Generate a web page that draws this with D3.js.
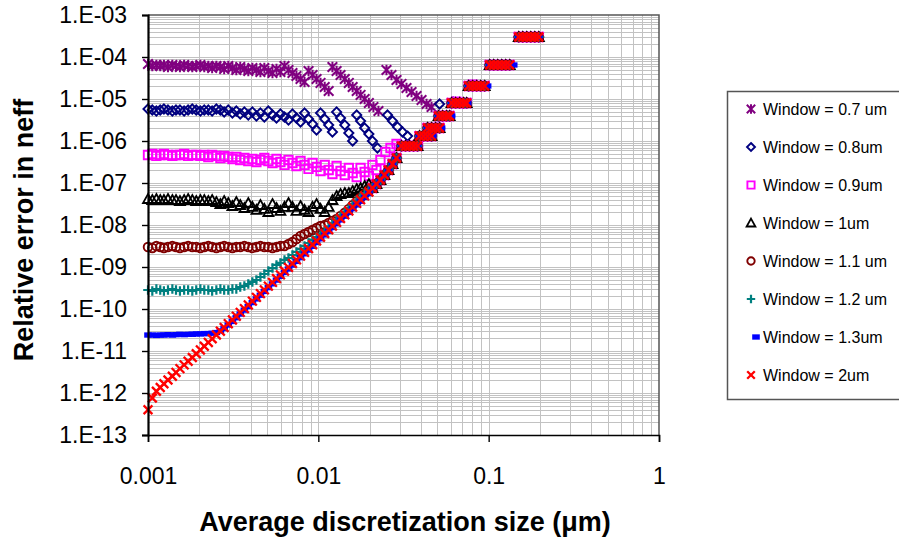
<!DOCTYPE html>
<html>
<head>
<meta charset="utf-8">
<script src="https://cdn.jsdelivr.net/npm/d3@7"></script>
<style>
  body { margin: 0; background: #fff; }
  svg { display: block; font-family: "Liberation Sans", Arial, Helvetica, sans-serif; }
</style>
</head>
<body>
<svg id="chart" width="899" height="544"></svg>
<script>
// discretization sizes shared by the dense part of every run (um)
const xGrid = [
  0.00100, 0.00106, 0.00112, 0.00118, 0.00124, 0.00131, 0.00139, 0.00146, 0.00154, 0.00163,
  0.00172, 0.00182, 0.00192, 0.00203, 0.00214, 0.00226, 0.00238, 0.00252, 0.00266, 0.00280,
  0.00296, 0.00313, 0.00330, 0.00348, 0.00368, 0.00388, 0.00410, 0.00433, 0.00457, 0.00482,
  0.00509, 0.00538, 0.00568, 0.00599, 0.00633, 0.00668, 0.00705, 0.00744, 0.00786, 0.00830,
  0.00876, 0.00925, 0.00976, 0.0103, 0.0109, 0.0115, 0.0121, 0.0128, 0.0135, 0.0143,
  0.0151, 0.0159, 0.0168, 0.0177, 0.0187, 0.0198
];

// relative error on xGrid, one array per window
const w07 = [
  6.81e-5, 6.11e-5, 6.45e-5, 6.11e-5, 6.45e-5, 5.78e-5, 6.45e-5, 6.11e-5, 5.78e-5, 6.45e-5,
  6.11e-5, 5.78e-5, 6.11e-5, 6.45e-5, 5.78e-5, 6.11e-5, 5.47e-5, 6.11e-5, 5.78e-5, 5.18e-5,
  6.11e-5, 5.47e-5, 4.90e-5, 5.78e-5, 5.18e-5, 4.64e-5, 5.47e-5, 4.90e-5, 4.40e-5, 5.47e-5,
  4.64e-5, 4.16e-5, 5.18e-5, 4.40e-5, 6.11e-5, 4.90e-5, 4.16e-5, 3.53e-5, 2.99e-5, 2.54e-5,
  4.64e-5, 3.73e-5, 2.99e-5, 2.41e-5, 1.93e-5, 1.55e-5, 5.78e-5, 4.64e-5, 3.73e-5, 2.99e-5,
  2.41e-5, 1.93e-5, 1.55e-5, 1.25e-5, 1.0e-5, 8.03e-6
];
const w08 = [
  5.78e-6, 5.47e-6, 5.18e-6, 5.47e-6, 5.78e-6, 5.47e-6, 5.18e-6, 5.47e-6, 5.47e-6, 5.18e-6,
  5.47e-6, 5.78e-6, 5.47e-6, 5.18e-6, 5.47e-6, 5.47e-6, 5.18e-6, 5.78e-6, 5.47e-6, 4.90e-6,
  5.47e-6, 4.64e-6, 5.18e-6, 4.40e-6, 4.90e-6, 4.16e-6, 4.90e-6, 3.94e-6, 4.64e-6, 3.73e-6,
  5.18e-6, 4.16e-6, 3.53e-6, 4.40e-6, 3.73e-6, 3.16e-6, 4.40e-6, 3.53e-6, 2.83e-6, 4.64e-6,
  3.34e-6, 2.54e-6, 1.83e-6, 4.64e-6, 3.34e-6, 2.41e-6, 1.64e-6, 4.90e-6, 3.53e-6, 2.41e-6,
  1.55e-6, 1.0e-6, 4.16e-6, 2.99e-6, 2.04e-6, 1.47e-6
];
const w09 = [
  4.64e-7, 4.90e-7, 4.40e-7, 4.64e-7, 4.90e-7, 4.64e-7, 4.40e-7, 4.64e-7, 4.64e-7, 4.90e-7,
  4.40e-7, 4.64e-7, 4.64e-7, 4.40e-7, 4.64e-7, 4.16e-7, 4.64e-7, 4.40e-7, 3.94e-7, 4.40e-7,
  4.16e-7, 3.73e-7, 4.16e-7, 3.53e-7, 3.94e-7, 3.34e-7, 3.73e-7, 3.16e-7, 3.53e-7, 3.94e-7,
  3.34e-7, 2.99e-7, 3.73e-7, 3.16e-7, 2.69e-7, 3.53e-7, 2.99e-7, 2.54e-7, 3.34e-7, 2.69e-7,
  2.16e-7, 2.99e-7, 2.41e-7, 1.93e-7, 2.69e-7, 2.04e-7, 1.64e-7, 2.54e-7, 1.93e-7, 1.55e-7,
  2.28e-7, 1.73e-7, 1.39e-7, 2.28e-7, 1.83e-7, 1.47e-7
];
const w10 = [
  4.16e-8, 3.94e-8, 4.16e-8, 3.94e-8, 3.94e-8, 4.16e-8, 3.94e-8, 3.94e-8, 3.73e-8, 3.94e-8,
  4.16e-8, 3.94e-8, 3.73e-8, 3.94e-8, 3.94e-8, 3.73e-8, 3.94e-8, 3.53e-8, 3.16e-8, 3.73e-8,
  3.34e-8, 2.83e-8, 3.53e-8, 2.99e-8, 2.54e-8, 3.34e-8, 2.69e-8, 2.28e-8, 2.99e-8, 2.41e-8,
  2.04e-8, 3.16e-8, 2.54e-8, 2.16e-8, 2.69e-8, 3.34e-8, 2.69e-8, 2.16e-8, 2.83e-8, 2.28e-8,
  2.04e-8, 2.69e-8, 3.16e-8, 2.41e-8, 2.04e-8, 2.69e-8, 3.94e-8, 4.90e-8, 5.47e-8, 5.78e-8,
  5.78e-8, 6.45e-8, 7.20e-8, 7.60e-8, 8.48e-8, 9.46e-8
];
const w11 = [
  2.99e-9, 2.83e-9, 3.16e-9, 2.99e-9, 2.83e-9, 2.99e-9, 3.16e-9, 2.99e-9, 2.83e-9, 2.99e-9,
  3.16e-9, 2.99e-9, 2.99e-9, 2.83e-9, 2.99e-9, 3.16e-9, 2.99e-9, 2.83e-9, 2.99e-9, 3.16e-9,
  2.99e-9, 2.83e-9, 2.99e-9, 2.99e-9, 3.16e-9, 2.99e-9, 2.83e-9, 2.99e-9, 3.16e-9, 2.99e-9,
  2.99e-9, 2.83e-9, 2.99e-9, 3.16e-9, 3.16e-9, 3.53e-9, 3.94e-9, 4.64e-9, 5.47e-9, 6.11e-9,
  6.81e-9, 7.60e-9, 8.48e-9, 9.46e-9, 1.0e-8, 1.12e-8, 1.25e-8, 1.39e-8, 1.64e-8, 1.96e-8,
  2.41e-8, 2.97e-8, 3.65e-8, 4.48e-8, 5.5e-8, 6.8e-8
];
const w12 = [
  2.83e-10, 2.69e-10, 2.99e-10, 2.83e-10, 2.69e-10, 2.83e-10, 2.99e-10, 2.83e-10, 2.69e-10, 2.83e-10,
  2.83e-10, 2.69e-10, 2.83e-10, 2.99e-10, 2.83e-10, 2.83e-10, 2.69e-10, 2.83e-10, 2.99e-10, 2.83e-10,
  2.83e-10, 2.99e-10, 2.99e-10, 3.34e-10, 3.53e-10, 3.94e-10, 4.40e-10, 4.90e-10, 5.78e-10, 6.81e-10,
  8.03e-10, 9.46e-10, 1.12e-9, 1.25e-9, 1.47e-9, 1.64e-9, 1.93e-9, 2.28e-9, 2.68e-9, 3.16e-9,
  3.73e-9, 4.40e-9, 5.18e-9, 6.11e-9, 7.4e-9, 9.1e-9, 1.12e-8, 1.37e-8, 1.69e-8, 2.08e-8,
  2.55e-8, 3.14e-8, 3.86e-8, 4.73e-8, 5.8e-8, 7.2e-8
];
const w13 = [
  2.40e-11, 2.40e-11, 2.35e-11, 2.40e-11, 2.40e-11, 2.45e-11, 2.40e-11, 2.45e-11, 2.50e-11, 2.45e-11,
  2.50e-11, 2.50e-11, 2.55e-11, 2.55e-11, 2.60e-11, 2.60e-11, 2.65e-11, 2.75e-11, 3.0e-11, 3.43e-11,
  4.16e-11, 5.05e-11, 6.2e-11, 7.6e-11, 9.4e-11, 1.15e-10, 1.42e-10, 1.74e-10, 2.13e-10, 2.62e-10,
  3.23e-10, 3.97e-10, 4.88e-10, 6.0e-10, 7.4e-10, 9.0e-10, 1.11e-9, 1.36e-9, 1.67e-9, 2.06e-9,
  2.53e-9, 3.11e-9, 3.83e-9, 4.70e-9, 5.8e-9, 7.1e-9, 8.7e-9, 1.07e-8, 1.32e-8, 1.62e-8,
  1.99e-8, 2.45e-8, 3.01e-8, 3.69e-8, 4.54e-8, 5.6e-8
];
const w20 = [
  4.0e-13, 7.6e-13, 1.10e-12, 1.35e-12, 1.66e-12, 2.04e-12, 2.51e-12, 3.09e-12, 3.80e-12, 4.68e-12,
  5.69e-12, 7.0e-12, 8.6e-12, 1.06e-11, 1.30e-11, 1.60e-11, 1.96e-11, 2.41e-11, 2.96e-11, 3.63e-11,
  4.47e-11, 5.49e-11, 6.75e-11, 8.3e-11, 1.02e-10, 1.25e-10, 1.54e-10, 1.89e-10, 2.32e-10, 2.85e-10,
  3.51e-10, 4.31e-10, 5.30e-10, 6.5e-10, 8.0e-10, 9.8e-10, 1.21e-9, 1.48e-9, 1.82e-9, 2.24e-9,
  2.75e-9, 3.38e-9, 4.16e-9, 5.11e-9, 6.3e-9, 7.7e-9, 9.5e-9, 1.16e-8, 1.43e-8, 1.76e-8,
  2.16e-8, 2.66e-8, 3.27e-8, 4.01e-8, 4.93e-8, 6.1e-8
];

// extra points of some windows beyond the shared grid [x, error]
const w07Extra = [
  [0.02106, 6.45e-6], [0.02254, 5.18e-6], [0.02512, 4.90e-5], [0.02688, 3.73e-5], [0.02877, 2.83e-5],
  [0.03077, 2.28e-5], [0.03293, 1.83e-5], [0.03525, 1.47e-5], [0.03772, 1.18e-5], [0.04036, 9.46e-6],
  [0.04318, 7.60e-6], [0.04621, 6.45e-6]
];
const w08Extra = [
  [0.02078, 1.0e-6], [0.02224, 6.81e-7], [0.02547, 4.16e-6], [0.02725, 2.99e-6], [0.02917, 2.16e-6],
  [0.03121, 1.64e-6], [0.03340, 1.31e-6], [0.0515, 7.6e-6], [0.0618, 8.5e-6]
];
const w09Extra = [
  [0.02078, 2.69e-7], [0.02193, 2.04e-7], [0.02315, 3.53e-7], [0.02478, 5.47e-7], [0.02651, 6.81e-7],
  [0.02877, 8.48e-7], [0.0385, 8.2e-7], [0.0645, 8.6e-6], [0.0805, 2.2e-5]
];
const w13Extra = [
  [0.0469, 1.31e-6], [0.0529, 2.04e-6], [0.0606, 3.94e-6], [0.0752, 8.03e-6], [0.0986, 2.04e-5],
  [0.1403, 6.45e-5]
];

// converged coarse points, common to every window
const tailX = [
  0.02078, 0.02193, 0.02315, 0.02444, 0.02581, 0.02725, 0.02877,
  0.03077, 0.03250, 0.03430, 0.03623, 0.03824,
  0.03928, 0.04146, 0.04377, 0.04621,
  0.04377, 0.04621, 0.04878, 0.05151,
  0.05082, 0.05364, 0.05662, 0.05897,
  0.06058, 0.06396, 0.06751, 0.07127, 0.07424,
  0.07627, 0.08052, 0.08500, 0.08973, 0.09474,
  0.1014, 0.1070, 0.1130, 0.1193, 0.1259, 0.1329,
  0.1502, 0.1585, 0.1673, 0.1767, 0.1865, 0.1969
];
const tailY = [
  7.60e-8, 9.46e-8, 1.18e-7, 1.55e-7, 2.04e-7, 2.83e-7, 3.94e-7,
  7.6e-7, 7.6e-7, 7.6e-7, 7.6e-7, 7.6e-7,
  1.31e-6, 1.31e-6, 1.31e-6, 1.31e-6,
  2.04e-6, 2.04e-6, 2.04e-6, 2.04e-6,
  3.94e-6, 3.94e-6, 3.94e-6, 3.94e-6,
  8.03e-6, 8.03e-6, 8.03e-6, 8.03e-6, 8.03e-6,
  2.04e-5, 2.04e-5, 2.04e-5, 2.04e-5, 2.04e-5,
  6.45e-5, 6.45e-5, 6.45e-5, 6.45e-5, 6.45e-5, 6.45e-5,
  2.99e-4, 2.99e-4, 2.99e-4, 2.99e-4, 2.99e-4, 2.99e-4
];

const seriesNames = [
  "Window = 0.7 um", "Window = 0.8um", "Window = 0.9um", "Window = 1um",
  "Window = 1.1 um", "Window = 1.2 um", "Window = 1.3um", "Window = 2um"
];
const yTickValues = [1e-3, 1e-4, 1e-5, 1e-6, 1e-7, 1e-8, 1e-9, 1e-10, 1e-11, 1e-12, 1e-13];
const yTickLabels = ["1.E-03", "1.E-04", "1.E-05", "1.E-06", "1.E-07", "1.E-08",
                     "1.E-09", "1.E-10", "1.E-11", "1.E-12", "1.E-13"];
const xTickValues = [0.001, 0.01, 0.1, 1];
const xTickLabels = ["0.001", "0.01", "0.1", "1"];

// --- layout
const plot = { left: 148, right: 659, top: 15, bottom: 435 };

const svg = d3.select("#chart");

const x = d3.scaleLog().domain([0.001, 1]).range([plot.left, plot.right]);
const y = d3.scaleLog().domain([1e-13, 1e-3]).range([plot.bottom, plot.top]);

// minor + major grid (1..9 of every decade)
const xGridVals = [];
[0.001, 0.01, 0.1].forEach(d => { for (let m = 1; m <= 9; m++) xGridVals.push(d * m); });
const yGridVals = [];
for (let e = -13; e < -3; e++) { for (let m = 1; m <= 9; m++) yGridVals.push(m * Math.pow(10, e)); }

svg.append("g")
  .selectAll("line")
  .data(xGridVals)
  .join("line")
  .attr("x1", d => Math.round(x(d)) + 0.5)
  .attr("x2", d => Math.round(x(d)) + 0.5)
  .attr("y1", plot.top)
  .attr("y2", plot.bottom)
  .attr("stroke", "#c2c2c2")
  .attr("stroke-width", 1);

svg.append("g")
  .selectAll("line")
  .data(yGridVals)
  .join("line")
  .attr("x1", plot.left)
  .attr("x2", plot.right)
  .attr("y1", d => Math.round(y(d)) + 0.5)
  .attr("y2", d => Math.round(y(d)) + 0.5)
  .attr("stroke", "#c2c2c2")
  .attr("stroke-width", 1);

// plot frame (top / right in grey)
svg.append("path")
  .attr("d", `M${plot.left},${plot.top}H${plot.right}V${plot.bottom}`)
  .attr("fill", "none")
  .attr("stroke", "#555")
  .attr("stroke-width", 1.5);

// --- markers
const markers = {
  star: s => `M${-s},${-s}L${s},${s}M${-s},${s}L${s},${-s}M0,${-s - 0.5}L0,${s + 0.5}`,
  diamond: s => `M0,${-s}L${s},0L0,${s}L${-s},0Z`,
  square: s => `M${-s},${-s}H${s}V${s}H${-s}Z`,
  triangle: s => `M0,${-s}L${s},${s * 0.8}L${-s},${s * 0.8}Z`,
  circle: s => `M${-s},0A${s},${s} 0 1,0 ${s},0A${s},${s} 0 1,0 ${-s},0Z`,
  plus: s => `M${-s},0H${s}M0,${-s}V${s}`,
  dash: s => `M${-s},${-s * 0.7}H${s}V${s * 0.7}H${-s}Z`,
  cross: s => `M${-s},${-s}L${s},${s}M${-s},${s}L${s},${-s}`
};

const tail = tailX.map((v, i) => [v, tailY[i]]);
const onGrid = ys => ys.map((v, i) => [xGrid[i], v]);

const series = [
  { name: seriesNames[0], pts: onGrid(w07).concat(w07Extra, tail), color: "#800080", marker: "star", size: 4.8, fill: false, sw: 2 },
  { name: seriesNames[1], pts: onGrid(w08).concat(w08Extra, tail), color: "#000080", marker: "diamond", size: 4.6, fill: false, sw: 1.9 },
  { name: seriesNames[2], pts: onGrid(w09).concat(w09Extra, tail), color: "#ff00ff", marker: "square", size: 4.2, fill: false, sw: 1.9 },
  { name: seriesNames[3], pts: onGrid(w10).concat(tail), color: "#000000", marker: "triangle", size: 5, fill: false, sw: 1.8 },
  { name: seriesNames[4], pts: onGrid(w11).concat(tail), color: "#800000", marker: "circle", size: 4.3, fill: false, sw: 1.9 },
  { name: seriesNames[5], pts: onGrid(w12).concat(tail), color: "#008080", marker: "plus", size: 4.8, fill: false, sw: 2.2 },
  { name: seriesNames[6], pts: onGrid(w13).concat(w13Extra, tail), color: "#0000ff", marker: "dash", size: 3.8, fill: true, sw: 0 },
  { name: seriesNames[7], pts: onGrid(w20).concat(tail), color: "#ff0000", marker: "cross", size: 4.4, fill: false, sw: 2.3 }
];

const marks = svg.append("g");
series.forEach(s => {
  marks.append("g")
    .selectAll("path")
    .data(s.pts)
    .join("path")
    .attr("transform", d => `translate(${x(d[0])},${y(d[1])})`)
    .attr("d", markers[s.marker](s.size))
    .attr("fill", s.fill ? s.color : "none")
    .attr("stroke", s.fill ? "none" : s.color)
    .attr("stroke-width", s.sw);
});

// --- axes
const yAxis = d3.axisLeft(y)
  .tickValues(yTickValues)
  .tickSize(6)
  .tickPadding(15)
  .tickFormat((d, i) => yTickLabels[i]);

const xAxis = d3.axisBottom(x)
  .tickValues(xTickValues)
  .tickSize(7)
  .tickPadding(26)
  .tickFormat((d, i) => xTickLabels[i]);

const gy = svg.append("g")
  .attr("transform", `translate(${plot.left},0)`)
  .call(yAxis);
gy.select(".domain").attr("stroke", "#000").attr("stroke-width", 2.2);

const gx = svg.append("g")
  .attr("transform", `translate(0,${plot.bottom})`)
  .call(xAxis);
gx.select(".domain").attr("stroke", "#000").attr("stroke-width", 1.6);

[gx, gy].forEach(g => {
  g.selectAll(".tick line").attr("stroke", "#000").attr("stroke-width", 1.4);
  g.selectAll("text")
    .attr("fill", "#000")
    .style("font-family", '"Liberation Sans", Arial, sans-serif')
    .style("font-size", "23px");
});

// axis titles
svg.append("text")
  .attr("transform", "translate(33,230) rotate(-90)")
  .attr("text-anchor", "middle")
  .style("font-size", "27px")
  .style("font-weight", "bold")
  .text("Relative error in neff");

svg.append("text")
  .attr("x", 405)
  .attr("y", 531)
  .attr("text-anchor", "middle")
  .style("font-size", "27px")
  .style("font-weight", "bold")
  .text("Average discretization size (\u03bcm)");

// --- legend
const legend = svg.append("g");
legend.append("rect")
  .attr("x", 727.5)
  .attr("y", 91.5)
  .attr("width", 200)
  .attr("height", 308)
  .attr("fill", "#fff")
  .attr("stroke", "#555")
  .attr("stroke-width", 1.5);

const legendY = d3.scalePoint().domain(seriesNames).range([109, 375]);

const items = legend.selectAll("g.item")
  .data(series)
  .join("g")
  .attr("class", "item")
  .attr("transform", d => `translate(0,${legendY(d.name)})`);

items.append("path")
  .attr("transform", d => `translate(${d.marker === "dash" ? 756 : 751},0)`)
  .attr("d", d => markers[d.marker](d.marker === "dash" ? 3.8 : d.size - 0.6))
  .attr("fill", d => d.fill ? d.color : "none")
  .attr("stroke", d => d.fill ? "none" : d.color)
  .attr("stroke-width", d => d.sw);

items.append("text")
  .attr("x", 763)
  .attr("y", 6)
  .style("font-size", "16px")
  .attr("fill", "#000")
  .text(d => d.name);
</script>
</body>
</html>
